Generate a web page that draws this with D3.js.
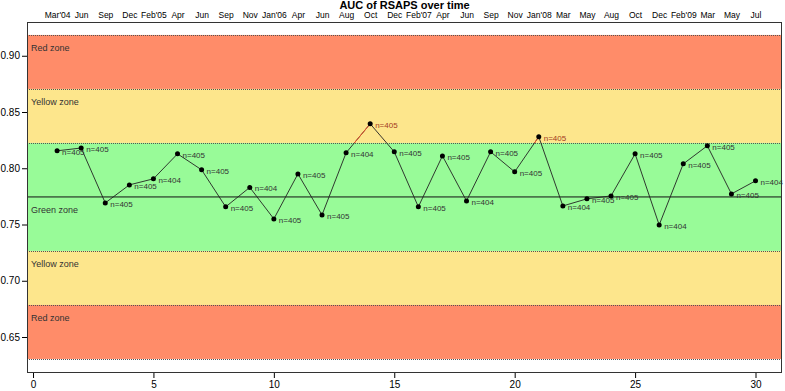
<!DOCTYPE html>
<html><head><meta charset="utf-8">
<script src="https://cdn.jsdelivr.net/npm/d3@7"></script>
<style>body{margin:0;background:#fff}svg{display:block;font-family:"Liberation Sans",Arial,sans-serif}</style>
</head><body>
<svg id="c" width="785" height="391"></svg>
<script>
const periods = d3.range(1, 31);
const monthLabels = ["Mar'04","Jun","Sep","Dec","Feb'05","Apr","Jun","Sep","Nov","Jan'06","Apr","Jun","Aug","Oct","Dec","Feb'07","Apr","Jun","Sep","Nov","Jan'08","Mar","May","Aug","Oct","Dec","Feb'09","Mar","May","Jul"];
const auc = [0.8155,0.818,0.7692,0.7852,0.7906,0.8128,0.7986,0.7657,0.783,0.755,0.795,0.7585,0.8137,0.8395,0.8146,0.7657,0.811,0.771,0.8146,0.7968,0.828,0.7665,0.7728,0.7754,0.8128,0.7496,0.8039,0.820,0.7772,0.7888];
const nLabels = [405,405,405,405,404,405,405,405,404,405,405,405,404,405,405,405,405,404,405,405,405,404,405,405,405,404,405,405,405,404];
const centre = 0.7745;
const step = 0.048;
const zones = [
  {name:"Red zone", lo:centre+2*step, hi:centre+3*step, color:"#FF8C69"},
  {name:"Yellow zone", lo:centre+step, hi:centre+2*step, color:"#FDE68C"},
  {name:"Green zone", lo:centre-step, hi:centre+step, color:"#98FB98", labelAt:centre},
  {name:"Yellow zone", lo:centre-2*step, hi:centre-step, color:"#FDE68C"},
  {name:"Red zone", lo:centre-3*step, hi:centre-2*step, color:"#FF8C69"}
];
const yTicks = [0.65,0.70,0.75,0.80,0.85,0.90];
const xTicks = [0,5,10,15,20,25,30];

const svg = d3.select("#c");
const L=27,R=782,T=22,B=373;
const x = d3.scaleLinear().domain([-0.25,31.1]).range([L,R]);
const y = d3.scaleLinear().domain([0.618,0.930]).range([B,T]);

// zones
svg.append("g").selectAll("rect").data(zones).join("rect")
  .attr("x",L).attr("width",R-L)
  .attr("y",d=>y(d.hi)).attr("height",d=>y(d.lo)-y(d.hi))
  .attr("fill",d=>d.color);
const bounds = [centre+3*step,centre+2*step,centre+step,centre-step,centre-2*step,centre-3*step];
svg.append("g").selectAll("line").data(bounds).join("line")
  .attr("x1",L).attr("x2",R).attr("y1",d=>Math.round(y(d))+0.5).attr("y2",d=>Math.round(y(d))+0.5)
  .attr("stroke","#555").attr("stroke-width",1).attr("stroke-dasharray","1,1");
svg.append("g").selectAll("text").data(zones).join("text")
  .attr("x",31).attr("y",d=>y(d.labelAt!==undefined?d.labelAt:d.hi)+16)
  .attr("font-size",9).attr("fill","#333").text(d=>d.name);
// centre line
svg.append("line").attr("x1",L).attr("x2",R).attr("y1",y(centre)).attr("y2",y(centre)).attr("stroke","#111").attr("stroke-width",1);

// series line
const pts = periods.map((p,i)=>({p, v:auc[i], n:nLabels[i]}));
const line = d3.line().x(d=>x(d.p)).y(d=>y(d.v));
svg.append("path").datum(pts).attr("d",line).attr("fill","none").attr("stroke","#222").attr("stroke-width",0.9);
// red overlay for rising segments entering the upper zone
svg.append("clipPath").attr("id","upper").append("rect")
  .attr("x",L).attr("y",T).attr("width",R-L).attr("height",y(centre+step)-T);
const rising = [];
for (let i=1;i<pts.length;i++) if (pts[i].v>centre+step && pts[i].v>pts[i-1].v) rising.push([pts[i-1],pts[i]]);
svg.append("g").attr("clip-path","url(#upper)").selectAll("path").data(rising).join("path")
  .attr("d",line).attr("fill","none").attr("stroke","#E8502A").attr("stroke-width",1);

svg.append("g").selectAll("circle").data(pts).join("circle")
  .attr("cx",d=>x(d.p)).attr("cy",d=>y(d.v)).attr("r",2.5).attr("fill","#000");
svg.append("g").selectAll("text").data(pts).join("text")
  .attr("x",d=>x(d.p)+5).attr("y",d=>y(d.v)+4)
  .attr("font-size",8).attr("fill",d=>d.v>centre+step?"#A33A1E":"#333").text(d=>"n="+d.n);

// frame
svg.append("rect").attr("x",L+0.5).attr("y",T+0.5).attr("width",R-L-1).attr("height",B-T-1).attr("fill","none").attr("stroke","#333");

// axes
const yAxis = d3.axisLeft(y).tickValues(yTicks).tickFormat(d3.format(".2f")).tickSize(5).tickPadding(2);
svg.append("g").attr("transform",`translate(${L},0)`).call(yAxis)
  .call(g=>g.select(".domain").remove())
  .call(g=>g.selectAll("text").attr("font-size",10).attr("font-family","Liberation Sans, Arial").attr("fill","#000"));
const xAxis = d3.axisBottom(x).tickValues(xTicks).tickSize(5).tickPadding(3);
svg.append("g").attr("transform",`translate(0,${B})`).call(xAxis)
  .call(g=>g.select(".domain").remove())
  .call(g=>g.selectAll("text").attr("font-size",10).attr("font-family","Liberation Sans, Arial").attr("fill","#000"));
const topAxis = d3.axisTop(x).tickValues(periods).tickFormat((d,i)=>monthLabels[i]).tickSize(0).tickPadding(4);
svg.append("g").attr("transform",`translate(0,${T})`).call(topAxis)
  .call(g=>g.select(".domain").remove())
  .call(g=>g.selectAll("text").attr("font-size",8.5).attr("font-family","Liberation Sans, Arial").attr("fill","#000"));

svg.append("text").attr("x",(L+R)/2).attr("y",9).attr("text-anchor","middle")
  .attr("font-size",11).attr("font-weight","bold").text("AUC of RSAPS over time");
</script>
</body></html>
